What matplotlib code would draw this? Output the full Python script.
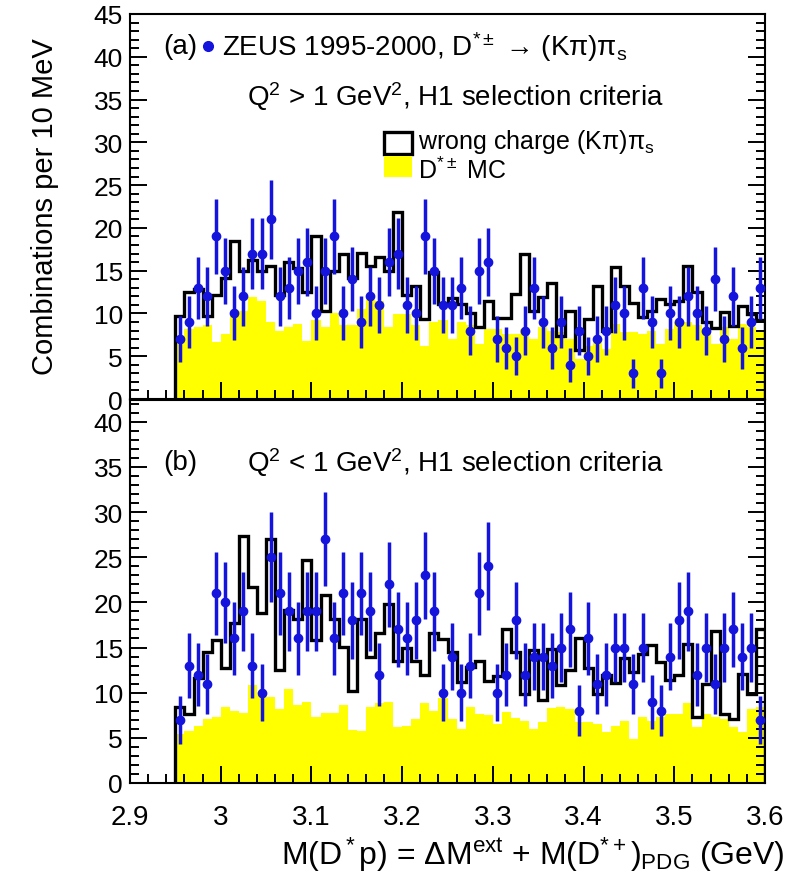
import numpy as np
import matplotlib
matplotlib.use("Agg")
import matplotlib.pyplot as plt
from matplotlib.patches import Rectangle
from matplotlib.ticker import MultipleLocator

plt.rcParams['font.family'] = ['Liberation Sans', 'DejaVu Sans']
plt.rcParams['mathtext.fontset'] = 'custom'
plt.rcParams['mathtext.rm'] = 'Liberation Sans'
plt.rcParams['mathtext.it'] = 'Liberation Sans:italic'
plt.rcParams['mathtext.bf'] = 'Liberation Sans:bold'
plt.rcParams['mathtext.sf'] = 'Liberation Sans'
plt.rcParams['mathtext.fallback'] = 'stixsans'

# ---- binning ----
bin_lo = 2.95
bin_width = 0.01
n_bins = 65

# ---- panel (a): Q^2 > 1 GeV^2 ----
a_data = [7, 9, 13, 12, 19, 15, 10, 12, 17, 17, 21, 12, 13, 15, 16, 10, 15, 19, 10, 14,
          9, 12, 11, 16, 17, 11, 10, 19, 15, 11, 11, 13, 8, 15, 16, 7, 6, 5, 8, 13, 9, 6, 9, 4,
          8, 5, 7, 8, 11, 10, 3, 13, 9, 3, 10, 9, 12, 10, 8, 14, 7, 12, 6, 9, 13]
a_wrong = [9.7, 12.5, 12.8, 9.7, 12.1, 14.2, 18.5, 15.0, 16.3, 15.0, 15.6, 12.2, 16.0, 15.3,
           12.5, 19.1, 10.3, 15.0, 17.0, 14.2, 17.1, 15.6, 16.6, 15.0, 21.9, 12.1, 13.2, 9.4,
           14.9, 11.1, 11.8, 11.1, 10.1, 8.4, 11.5, 9.5, 9.5, 12.3, 17.0, 10.3, 11.9, 13.6,
           7.4, 10.3, 5.7, 9.3, 13.2, 8.0, 15.4, 13.2, 11.2, 9.6, 10.3, 11.7, 11.1, 11.4,
           15.5, 12.5, 9.0, 8.3, 10.2, 8.5, 10.9, 9.9, 9.2]
a_mc = [7.2, 8.2, 8.4, 8.6, 6.7, 7.6, 9.7, 10.3, 11.9, 11.5, 9.0, 8.0, 8.4, 8.8, 6.8, 9.2,
        8.4, 10.1, 8.6, 8.6, 10.5, 11.6, 11.5, 8.4, 9.9, 9.9, 8.6, 6.2, 9.0, 9.2, 7.0, 9.0,
        8.6, 6.4, 8.2, 8.2, 7.6, 7.6, 8.2, 7.0, 8.4, 8.0, 7.8, 7.0, 4.7, 6.2, 6.6, 5.8, 8.8,
        7.8, 7.8, 7.6, 8.0, 6.4, 8.2, 9.0, 9.0, 8.6, 8.2, 6.4, 8.4, 7.0, 8.8, 8.4, 7.8]

# ---- panel (b): Q^2 < 1 GeV^2 ----
b_data = [7, 13, 12, 11, 21, 20, 16, 19, 13, 10, 25, 21, 19, 16, 19, 19, 27, 16, 21, 18, 21,
          19, 12, 22, 17, 16, 18, 23, 19, 10, 14, 10, 13, 21, 24, 10, 12, 18, 12, 14, 14, 13, 15, 17,
          8, 16, 11, 12, 15, 15, 11, 15, 9, 8, 14, 18, 19, 12, 15, 11, 15, 17, 14, 15, 7]
b_wrong = [8.4, 7.6, 11.6, 14.5, 15.8, 12.7, 17.7, 27.3, 21.7, 18.8, 27.0, 12.5, 19.2, 18.2,
           24.7, 15.8, 20.8, 18.2, 15.1, 10.2, 18.2, 14.0, 16.6, 19.8, 13.5, 14.9, 13.5, 12.0,
           16.6, 15.9, 14.5, 11.2, 12.8, 13.5, 11.3, 11.9, 17.1, 14.5, 9.9, 14.7, 9.2, 14.8,
           10.9, 12.5, 16.0, 12.7, 9.9, 12.0, 11.1, 13.8, 12.3, 14.3, 15.3, 13.4, 11.4, 12.0,
           15.4, 7.3, 11.0, 16.8, 7.6, 7.1, 12.1, 9.9, 17.0]
b_mc = [5.4, 5.8, 6.3, 7.1, 7.3, 8.4, 8.0, 7.8, 10.8, 9.7, 9.5, 8.2, 10.4, 8.6, 9.0, 7.3,
        7.8, 7.8, 8.6, 5.9, 5.8, 8.4, 8.9, 9.0, 6.2, 6.3, 7.1, 8.9, 8.0, 9.4, 7.1, 6.0, 8.4,
        7.6, 7.5, 6.5, 7.9, 7.2, 6.9, 6.0, 6.7, 8.3, 8.4, 8.2, 6.7, 6.7, 6.5, 5.6, 6.3, 6.9,
        4.9, 7.3, 6.9, 7.3, 7.6, 7.6, 8.9, 6.2, 7.6, 7.3, 7.1, 6.2, 5.6, 8.2, 8.4]

x_ticks = [2.9, 3.0, 3.1, 3.2, 3.3, 3.4, 3.5, 3.6]
x_ticklabels = ["2.9", "3", "3.1", "3.2", "3.3", "3.4", "3.5", "3.6"]

edges = bin_lo + bin_width * np.arange(n_bins + 1)
centers = 0.5 * (edges[:-1] + edges[1:])

W, H = 794, 879
fig = plt.figure(figsize=(W / 100, H / 100), dpi=100)
ax1 = fig.add_axes([130 / W, (H - 400) / H, 635 / W, 385 / H])
ax2 = fig.add_axes([130 / W, (H - 784) / H, 635 / W, 383 / H])

blue = '#1414dc'
FS = 20

def draw(ax, data, wrong, mc, ymax):
    ax.stairs(mc, edges, fill=True, color='#ffff00', linewidth=0, zorder=1)
    ax.stairs(wrong, edges, baseline=0, fill=False, color='black', linewidth=2.4, zorder=2)
    d = np.asarray(data, dtype=float)
    ax.errorbar(centers, d, yerr=np.sqrt(d), fmt='o', color=blue, markersize=6,
                elinewidth=2.5, capsize=0, zorder=3)
    ax.set_xlim(2.9, 3.6)
    ax.set_ylim(0, ymax)
    ax.set_xticks(x_ticks)
    ax.set_xticklabels(x_ticklabels)
    ax.xaxis.set_minor_locator(MultipleLocator(0.02))
    ax.yaxis.set_major_locator(MultipleLocator(5))
    ax.yaxis.set_minor_locator(MultipleLocator(1))
    ax.tick_params(which='both', direction='in', right=True, top=False, width=1.4)
    ax.tick_params(axis='y', labelsize=19, pad=5)
    ax.tick_params(axis='x', labelsize=FS, pad=15)
    ax.tick_params(which='major', length=12)
    ax.tick_params(which='minor', length=6.5)
    for s in ax.spines.values():
        s.set_linewidth(1.5)

draw(ax1, a_data, a_wrong, a_mc, 45)
draw(ax2, b_data, b_wrong, b_mc, 42.4)
ax1.tick_params(labelbottom=False)
ax2.set_yticks([0, 5, 10, 15, 20, 25, 30, 35, 40])

def fa(px, py):
    return ((px - 130) / 635, (400 - py) / 385)

def fb(px, py):
    return ((px - 130) / 635, (784 - py) / 383)

# ---- texts panel (a) ----
ax1.text(*fa(163, 47), "(a)", fontsize=FS, ha='left', va='center', transform=ax1.transAxes)
ax1.plot(*fa(208, 47), 'o', color=blue, markersize=7, transform=ax1.transAxes, clip_on=False)
ax1.text(*fa(222, 47), r"ZEUS 1995-2000, D$^{*\pm}$ → (Kπ)π$_\mathrm{s}$", fontsize=FS,
         ha='left', va='center', transform=ax1.transAxes)
ax1.text(*fa(247, 97), r"Q$^2$ > 1 GeV$^2$, H1 selection criteria", fontsize=FS,
         ha='left', va='center', transform=ax1.transAxes)

bx, by = fa(384, 155)
ax1.add_patch(Rectangle((bx, by), 28 / 635, 22 / 385, transform=ax1.transAxes,
                        facecolor='white', edgecolor='black', linewidth=2.4, zorder=5))
bx2, by2 = fa(384, 178)
ax1.add_patch(Rectangle((bx2, by2), 28 / 635, 21 / 385, transform=ax1.transAxes,
                        facecolor='#ffff00', edgecolor='none', zorder=5))
ax1.text(*fa(418, 142), r"wrong charge (Kπ)π$_\mathrm{s}$", fontsize=18, ha='left',
         va='center', transform=ax1.transAxes)
ax1.text(*fa(418, 171), r"D$^{*\pm}$ MC", fontsize=18, ha='left', va='center',
         transform=ax1.transAxes)

# ---- texts panel (b) ----
ax2.text(*fb(163, 463), "(b)", fontsize=FS, ha='left', va='center', transform=ax2.transAxes)
ax2.text(*fb(247, 463), r"Q$^2$ < 1 GeV$^2$, H1 selection criteria", fontsize=FS,
         ha='left', va='center', transform=ax2.transAxes)

fig.text(45 / W, (H - 207) / H, "Combinations per 10 MeV", rotation=90, fontsize=21,
         ha='center', va='center')
fig.text(785 / W, (H - 855) / H,
         r"M(D$^*$p) = ΔM$^{\mathrm{ext}}$ + M(D$^{*+}$)$_{\mathrm{PDG}}$ (GeV)",
         fontsize=23, ha='right', va='center')

fig.savefig("out.png", dpi=100)
